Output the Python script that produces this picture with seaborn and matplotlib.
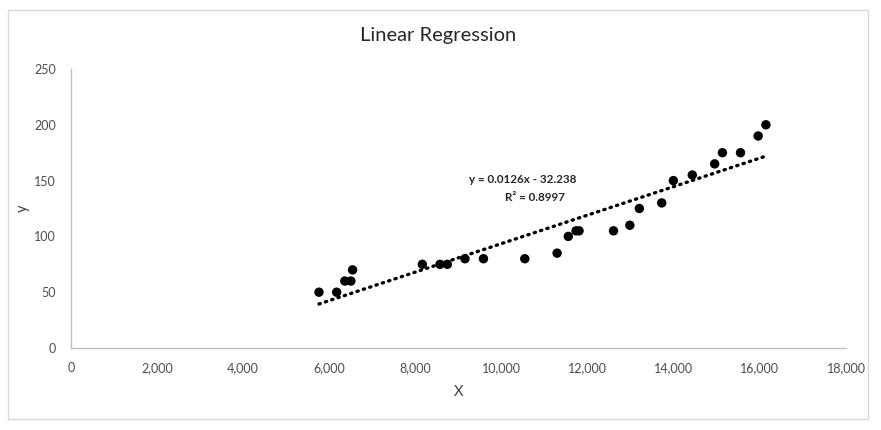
import matplotlib
matplotlib.use("Agg")
import matplotlib.pyplot as plt
import matplotlib.ticker as mticker
from matplotlib.patches import Rectangle
import seaborn as sns
import pandas as pd

# Data
x_values = [5760, 6170, 6360, 6500, 6540, 8160, 8570, 8740, 9150, 9580, 10540,
            11290, 11550, 11730, 11800, 12600, 12980, 13200, 13720, 13990, 14430,
            14950, 15130, 15550, 15960, 16140]
y_values = [50, 50, 60, 60, 70, 75, 75, 75, 80, 80, 80,
            85, 100, 105, 105, 105, 110, 125, 130, 150, 155,
            165, 175, 175, 190, 200]
x_ticks = [0, 2000, 4000, 6000, 8000, 10000, 12000, 14000, 16000, 18000]
y_ticks = [0, 50, 100, 150, 200, 250]
title = "Linear Regression"
equation_line = "y = 0.0126x - 32.238"
r2_line = "R\u00b2 = 0.8997"

df = pd.DataFrame({"X": x_values, "y": y_values})

sns.set_theme(style="white")
plt.rcParams["font.family"] = ["Lato", "DejaVu Sans"]

fig = plt.figure(figsize=(8.81, 4.30), dpi=100)
ax = fig.add_axes([71 / 881, 1 - 348 / 430, (846 - 71) / 881, (348 - 69) / 430])

# outer chart border
fig.patches.append(Rectangle((8 / 881, 1 - 419 / 430), 860 / 881, 409 / 430,
                             transform=fig.transFigure, fill=False,
                             edgecolor="#d9d9d9", linewidth=1.0, zorder=0))

sns.regplot(data=df, x="X", y="y", ax=ax, ci=None, truncate=True,
            scatter_kws=dict(s=46, color="black", edgecolor="none", alpha=1,
                             zorder=3),
            line_kws=dict(color="black", linewidth=2.4,
                          linestyle=(0, (0.4, 1.6)), dash_capstyle="round",
                          zorder=2))

ax.set_xlim(0, 18000)
ax.set_ylim(0, 250)
ax.set_xticks(x_ticks)
ax.set_yticks(y_ticks)
ax.xaxis.set_major_formatter(mticker.FuncFormatter(lambda v, p: f"{int(v):,}"))
ax.tick_params(axis="both", length=0, labelsize=9, colors="#4d4d4d")
ax.tick_params(axis="x", pad=10)
ax.tick_params(axis="y", pad=11)

for side in ["top", "right"]:
    ax.spines[side].set_visible(False)
for side in ["left", "bottom"]:
    ax.spines[side].set_visible(True)
    ax.spines[side].set_color("#bfbfbf")
    ax.spines[side].set_linewidth(1.0)

ax.set_xlabel("X", fontsize=10.5, color="#404040", labelpad=8)
ax.set_ylabel("y", fontsize=10.5, color="#404040", labelpad=3)
ax.grid(False)

ax.text(10500, 151, equation_line, ha="center", va="center", fontsize=8.4,
        fontweight="bold", color="#262626")
ax.text(10780, 135, r2_line, ha="center", va="center", fontsize=8.4,
        fontweight="bold", color="#262626")

fig.text(438 / 881, 1 - 36 / 430, title, ha="center", va="center",
         fontsize=14.5, color="#262626")

fig.savefig("out.png", dpi=100, facecolor="white")
